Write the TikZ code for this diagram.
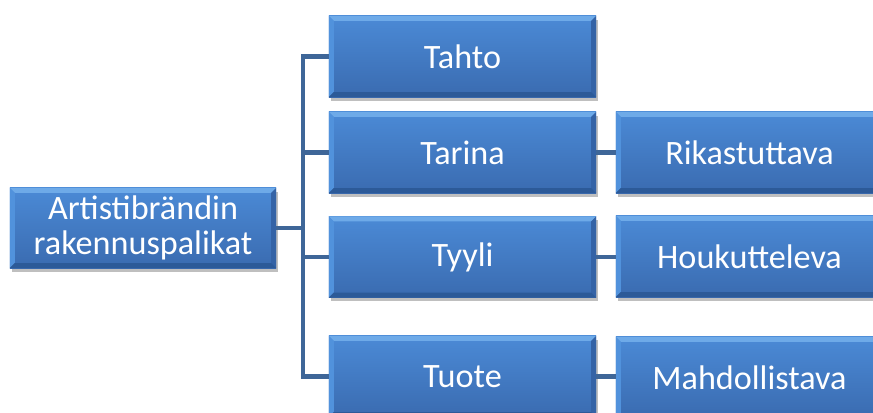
\documentclass[tikz,border=0pt]{standalone}
\usepackage{fontspec}
\setmainfont{Carlito}
\usepackage{tikz}
\usetikzlibrary{calc,shadows}

\definecolor{boxtop}{HTML}{4B8AD6}
\definecolor{boxbot}{HTML}{3A6BB0}
\definecolor{bevellight}{HTML}{6EAAE8}
\definecolor{bevelleft}{HTML}{5192DC}
\definecolor{bevelright}{HTML}{3463A6}
\definecolor{beveldark}{HTML}{2C5A98}
\definecolor{linkblue}{HTML}{3E6698}

\tikzset{
    block/.style={rectangle, minimum width=6.675cm, minimum height=2.025cm,
        inner sep=0pt, align=center, text=white,
        font=\fontsize{24.3pt}{25.3pt}\selectfont,
        top color=boxtop, bottom color=boxbot,
        drop shadow={shadow xshift=1.5pt, shadow yshift=-2.5pt, opacity=0.25, fill=black},
        path picture={
            \coordinate (nw) at (path picture bounding box.north west);
            \coordinate (ne) at (path picture bounding box.north east);
            \coordinate (sw) at (path picture bounding box.south west);
            \coordinate (se) at (path picture bounding box.south east);
            \fill[bevellight] (nw) -- (ne) -- ($(ne)+(-3.5pt,-3.5pt)$) -- ($(nw)+(3.5pt,-3.5pt)$) -- cycle;
            \fill[bevelleft] (nw) -- (sw) -- ($(sw)+(3.5pt,3.5pt)$) -- ($(nw)+(3.5pt,-3.5pt)$) -- cycle;
            \fill[bevelright] (ne) -- (se) -- ($(se)+(-3.5pt,3.5pt)$) -- ($(ne)+(-3.5pt,-3.5pt)$) -- cycle;
            \fill[beveldark] (sw) -- (se) -- ($(se)+(-3.5pt,3.5pt)$) -- ($(sw)+(3.5pt,3.5pt)$) -- cycle;
        }},
    link/.style={draw=linkblue, line width=3.5pt}
}

\begin{document}
\begin{tikzpicture}[x=0.025cm, y=-0.025cm]
    \useasboundingbox (0,0) rectangle (873,413);
    \clip (0,0) rectangle (873,413);

    % root and first level
    \node[block, minimum width=6.65cm, minimum height=2cm] (root) at (143,228) {Artistibrändin\\rakennuspalikat};
    \node[block] (tahto) at (462.5,56.5) {Tahto};
    \node[block] (tarina) at (462.5,152.5) {Tarina};
    \node[block] (tyyli) at (462.5,257) {Tyyli};
    \node[block] (tuote) at (462.5,376.5) {Tuote};

    % second level
    \node[block] (rikas) at (749.5,152.5) {Rikastuttava};
    \node[block] (houk) at (749.5,256.5) {Houkutteleva};
    \node[block] (mahd) at (749.5,377.5) {Mahdollistava};

    % connectors
    \coordinate (bus) at (303,0);
    \draw[link] (tahto.west) -| (bus |- tuote.west) -- (tuote.west);
    \draw[link] (root.east) -- (bus |- root.east);
    \draw[link] (bus |- tarina.west) -- (tarina.west);
    \draw[link] (bus |- tyyli.west) -- (tyyli.west);
    \draw[link] (tarina.east) -- (rikas.west);
    \draw[link] (tyyli.east) -- (tyyli.east -| houk.west);
    \draw[link] (tuote.east) -- (tuote.east -| mahd.west);
\end{tikzpicture}
\end{document}
